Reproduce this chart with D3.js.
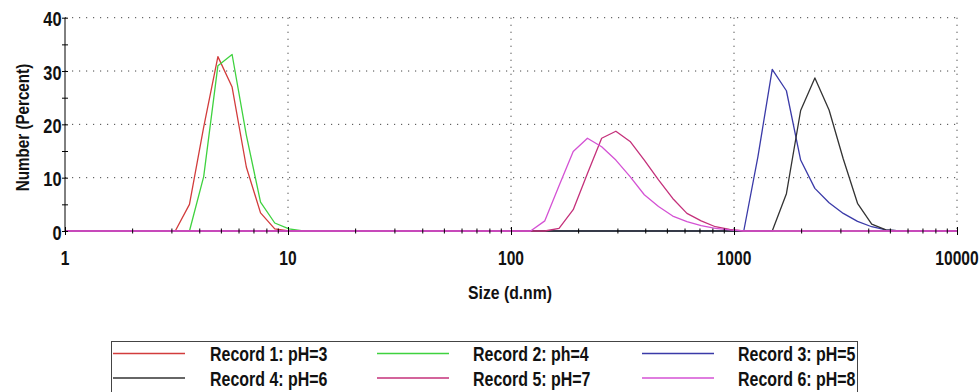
<!DOCTYPE html>
<html>
<head>
<meta charset="utf-8">
<script src="https://cdn.jsdelivr.net/npm/d3@7"></script>
<style>
  body { margin: 0; background: #fff; }
  svg { display: block; }
  text { font-family: Arial, "Liberation Sans", sans-serif; font-weight: bold; fill: #111; }
</style>
</head>
<body>
<div id="chart"></div>
<script>
// size classes (d.nm)
const sizes = [
  0.9649, 1.117, 1.294, 1.499, 1.736, 2.010, 2.328, 2.696, 3.122, 3.615, 4.187, 4.849, 5.615, 6.503, 7.531, 8.721,
  10.10, 11.70, 13.54, 15.69, 18.17, 21.04, 24.36, 28.21, 32.67, 37.84, 43.82, 50.75, 58.77, 68.06, 78.82, 91.28,
  105.7, 122.4, 141.8, 164.2, 190.1, 220.2, 255.0, 295.3, 342.0, 396.1, 458.7, 531.2, 615.1, 712.4, 825.0, 955.4,
  1106, 1281, 1484, 1718, 1990, 2305, 2669, 3091, 3580, 4145, 4801, 5560, 6439, 7456, 8635, 10000
];

const recordNames = ['Record 1: pH=3', 'Record 2: ph=4', 'Record 3: pH=5',
                     'Record 4: pH=6', 'Record 5: pH=7', 'Record 6: pH=8'];
const recordColors = ['#d23c3c', '#3fd23f', '#3a3aa8', '#333333', '#c4307a', '#d452d4'];

// Number (%) per size class
const rec1 = [
  0, 0, 0, 0, 0, 0, 0, 0, 0, 5, 19.5, 32.7, 27, 12, 3.4, 0.4,
  0, 0, 0, 0, 0, 0, 0, 0, 0, 0, 0, 0, 0, 0, 0, 0,
  0, 0, 0, 0, 0, 0, 0, 0, 0, 0, 0, 0, 0, 0, 0, 0,
  0, 0, 0, 0, 0, 0, 0, 0, 0, 0, 0, 0, 0, 0, 0, 0
];
const rec2 = [
  0, 0, 0, 0, 0, 0, 0, 0, 0, 0, 10.2, 31, 33.1, 18, 5.4, 1.5,
  0.4, 0, 0, 0, 0, 0, 0, 0, 0, 0, 0, 0, 0, 0, 0, 0,
  0, 0, 0, 0, 0, 0, 0, 0, 0, 0, 0, 0, 0, 0, 0, 0,
  0, 0, 0, 0, 0, 0, 0, 0, 0, 0, 0, 0, 0, 0, 0, 0
];
const rec3 = [
  0, 0, 0, 0, 0, 0, 0, 0, 0, 0, 0, 0, 0, 0, 0, 0,
  0, 0, 0, 0, 0, 0, 0, 0, 0, 0, 0, 0, 0, 0, 0, 0,
  0, 0, 0, 0, 0, 0, 0, 0, 0, 0, 0, 0, 0, 0, 0, 0,
  0, 14, 30.3, 26.3, 13.3, 8, 5.3, 3.3, 1.8, 0.8, 0.2, 0, 0, 0, 0, 0
];
const rec4 = [
  0, 0, 0, 0, 0, 0, 0, 0, 0, 0, 0, 0, 0, 0, 0, 0,
  0, 0, 0, 0, 0, 0, 0, 0, 0, 0, 0, 0, 0, 0, 0, 0,
  0, 0, 0, 0, 0, 0, 0, 0, 0, 0, 0, 0, 0, 0, 0, 0,
  0, 0, 0, 7, 22.6, 28.7, 22.7, 13.5, 5.2, 1.3, 0.2, 0, 0, 0, 0, 0
];
const rec5 = [
  0, 0, 0, 0, 0, 0, 0, 0, 0, 0, 0, 0, 0, 0, 0, 0,
  0, 0, 0, 0, 0, 0, 0, 0, 0, 0, 0, 0, 0, 0, 0, 0,
  0, 0, 0, 0.5, 4, 10.8, 17.4, 18.7, 16.8, 13.3, 9.6, 6.1, 3.3, 1.9, 0.8, 0.3,
  0, 0, 0, 0, 0, 0, 0, 0, 0, 0, 0, 0, 0, 0, 0, 0
];
const rec6 = [
  0, 0, 0, 0, 0, 0, 0, 0, 0, 0, 0, 0, 0, 0, 0, 0,
  0, 0, 0, 0, 0, 0, 0, 0, 0, 0, 0, 0, 0, 0, 0, 0,
  0, 0, 1.9, 8.5, 14.9, 17.4, 15.8, 13.3, 10.2, 6.8, 4.6, 2.8, 1.75, 1, 0.5, 0.2,
  0, 0, 0, 0, 0, 0, 0, 0, 0, 0, 0, 0, 0, 0, 0, 0
];
const records = [rec1, rec2, rec3, rec4, rec5, rec6];

const decadeTicks = [1, 10, 100, 1000, 10000];
const yTicks = [0, 10, 20, 30, 40];

const W = 979, H = 392;
const pad = { left: 65, right: 957, top: 17.7, bottom: 231 };

const svg = d3.select('#chart').append('svg')
  .attr('width', W).attr('height', H);

const x = d3.scaleLog().domain([1, 10000]).range([pad.left, pad.right]);
const y = d3.scaleLinear().domain([0, 40]).range([pad.bottom, pad.top]);

// helper for the slightly condensed look of the original labels
function label(g, px, py, str, size, sx, anchor, rot) {
  return g.append('text')
    .attr('transform', `translate(${px},${py}) rotate(${rot || 0}) scale(${sx},1)`)
    .attr('text-anchor', anchor)
    .style('font-size', size + 'px')
    .text(str);
}

// dotted grid
const grid = svg.append('g').attr('stroke', '#444').attr('stroke-width', 1)
  .attr('stroke-dasharray', '1.2,5.8');
grid.selectAll('.hg').data(yTicks.slice(1)).enter().append('line')
  .attr('x1', pad.left).attr('x2', pad.right)
  .attr('y1', d => y(d)).attr('y2', d => y(d));
grid.selectAll('.vg').data(decadeTicks.slice(1)).enter().append('line')
  .attr('x1', d => x(d)).attr('x2', d => x(d))
  .attr('y1', pad.top).attr('y2', pad.bottom);

// axis lines
svg.append('line').attr('x1', pad.left).attr('x2', pad.left).attr('y1', pad.top).attr('y2', pad.bottom)
  .attr('stroke', '#000');
svg.append('line').attr('x1', pad.left).attr('x2', pad.right).attr('y1', pad.bottom).attr('y2', pad.bottom)
  .attr('stroke', '#000');

// series
svg.append('clipPath').attr('id', 'plot').append('rect')
  .attr('x', pad.left).attr('y', 0).attr('width', pad.right - pad.left).attr('height', pad.bottom + 2);

const line = d3.line()
  .x((d, i) => x(sizes[i]))
  .y(d => y(d));

svg.append('g').attr('clip-path', 'url(#plot)')
  .selectAll('path').data(records).enter().append('path')
  .attr('d', line)
  .attr('fill', 'none')
  .attr('stroke', (d, i) => recordColors[i])
  .attr('stroke-width', 1.3)
  .attr('stroke-linejoin', 'round');

// x ticks: minor 2..9 per decade, crossing the axis
const minorX = [];
decadeTicks.slice(0, -1).forEach(d => { for (let k = 2; k <= 9; k++) minorX.push(d * k); });

const xAxis = svg.append('g').attr('transform', `translate(0,${pad.bottom})`)
  .call(d3.axisBottom(x).tickValues(minorX.concat(decadeTicks)).tickFormat('').tickSizeOuter(0));
xAxis.select('.domain').remove();
xAxis.selectAll('.tick line')
  .attr('y1', d => decadeTicks.includes(d) ? -4 : -2.5)
  .attr('y2', d => decadeTicks.includes(d) ? 4 : 2.5)
  .attr('stroke', '#000');

decadeTicks.forEach(d => label(svg, x(d), 265, String(d), 20, 0.78, 'middle'));

// y ticks every 5, crossing the axis
const yAxis = svg.append('g').attr('transform', `translate(${pad.left},0)`)
  .call(d3.axisLeft(y).tickValues(d3.range(0, 41, 5)).tickFormat('').tickSizeOuter(0));
yAxis.select('.domain').remove();
yAxis.selectAll('.tick line').attr('x1', -3).attr('x2', 3).attr('stroke', '#000');

yTicks.forEach(d => label(svg, 61.5, y(d) + 8.5, String(d), 20, 0.82, 'end'));

// axis titles
label(svg, 510, 299, 'Size (d.nm)', 17.5, 0.9, 'middle');
label(svg, 29, 127.5, 'Number (Percent)', 19, 0.8, 'middle', -90);

// legend
const legend = svg.append('g');
legend.append('rect')
  .attr('x', 111.5).attr('y', 341.5).attr('width', 746).attr('height', 70)
  .attr('fill', '#fff').attr('stroke', '#444').attr('stroke-width', 1);

const colLine = [113, 377, 642];
const colText = [210, 473, 738];
const rowY = [353.5, 378];

recordNames.forEach((name, i) => {
  const c = i % 3, r = Math.floor(i / 3);
  legend.append('line')
    .attr('x1', colLine[c]).attr('x2', colLine[c] + 72)
    .attr('y1', rowY[r]).attr('y2', rowY[r])
    .attr('stroke', recordColors[i]).attr('stroke-width', 1.4);
  label(legend, colText[c], rowY[r] + 7.5, name, 21, 0.76, 'start');
});
</script>
</body>
</html>
